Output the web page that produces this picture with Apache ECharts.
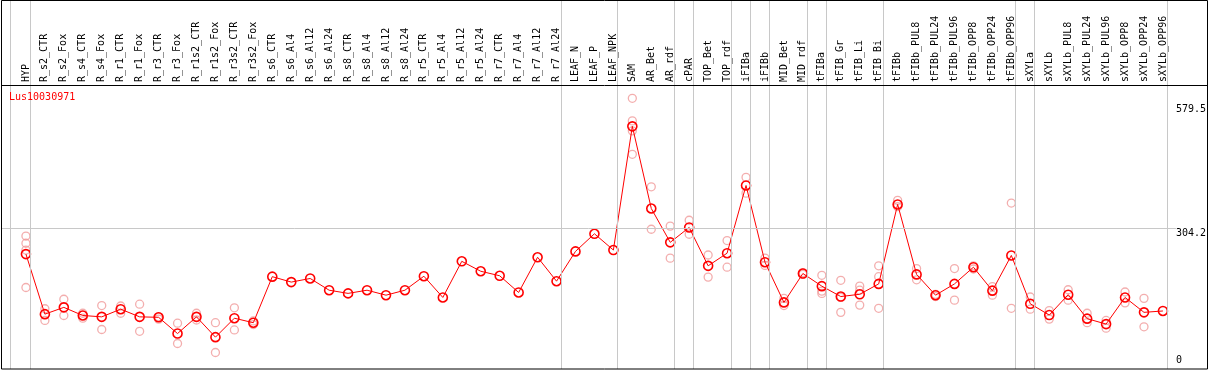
<!DOCTYPE html>
<html>
<head>
<meta charset="utf-8">
<script src="https://cdn.jsdelivr.net/npm/echarts@6/dist/echarts.min.js"></script>
<style>
html,body{margin:0;padding:0;background:#fff;}
#chart{width:1209px;height:370px;}
</style>
</head>
<body>
<div id="chart"></div>
<script>
const geneName = 'Lus10030971';
const categories = ['HYP','R_s2_CTR','R_s2_Fox','R_s4_CTR','R_s4_Fox','R_r1_CTR','R_r1_Fox','R_r3_CTR','R_r3_Fox','R_r1s2_CTR','R_r1s2_Fox','R_r3s2_CTR','R_r3s2_Fox','R_s6_CTR','R_s6_Al4','R_s6_Al12','R_s6_Al24','R_s8_CTR','R_s8_Al4','R_s8_Al12','R_s8_Al24','R_r5_CTR','R_r5_Al4','R_r5_Al12','R_r5_Al24','R_r7_CTR','R_r7_Al4','R_r7_Al12','R_r7_Al24','LEAF_N','LEAF_P','LEAF_NPK','SAM','AR_Bet','AR_rdf','cPAR','TOP_Bet','TOP_rdf','iFIBa','iFIBb','MID_Bet','MID_rdf','tFIBa','tFIB_Gr','tFIB_Li','tFIB_Bi','tFIBb','tFIBb_PUL8','tFIBb_PUL24','tFIBb_PUL96','tFIBb_OPP8','tFIBb_OPP24','tFIBb_OPP96','sXYLa','sXYLb','sXYLb_PUL8','sXYLb_PUL24','sXYLb_PUL96','sXYLb_OPP8','sXYLb_OPP24','sXYLb_OPP96'];
const meanValues = [247,114,129,111,108,125,108,107,71,108,63,105,95,197,185,193,167,160,167,156,167,198,151,231,209,199,162,240,187,253,292,256,530,348,273,306,221,249,399,229,140,204,176,153,158,181,357,202,156,181,218,166,244,137,112,157,104,92,151,118,121];
const replicates = [
  [287,271,256,173],[126,100],[147,111],[116,105],[133,80],[132,116],[136,76],[108,103],[94,49],[116,101],[95,29],[128,79],[99,91],
  [],[],[],[],[],[],[],[],[],[],[],[],[],[],[],[],[],[],[],
  [592,542,520,468],[396,302],[309,238],[322,291],[245,196],[277,218],[417,382],[238,222],[149,133],[206,202],
  [200,165,160],[189,151,118],[176,167,134],[221,197,127],[366,352],[215,190],[158,153],[215,145],[221,214],[175,156],[360,127],
  [152,125],[122,103],[168,145],[116,95],[100,83],[163,139],[149,86],[]
];
const groupSizes = [1,28,3,3,1,2,1,1,2,1,3,7,1,7];
const yTickTop = [304.2, 579.5];
const yTickBottom = [0];
const refLineValue = 304.2;

const FONT = 'DejaVu Sans Mono';
const lineData = meanValues.map((v,i)=>[i,v]);
const repData = [];
replicates.forEach((arr,i)=>arr.forEach(v=>repData.push([i,v])));
// group boundary lines just after the last member of each group
const boundaries = [-0.83];
let acc = 0;
groupSizes.forEach(s=>{acc += s; boundaries.push(acc - 1 + 0.227);});

const xMin = -1.316, xMax = 60.684;
const yMin = -7.5, yMax = 809.8;

const chart = echarts.init(document.getElementById('chart'), null, {renderer:'canvas'});
chart.setOption({
  animation:false,
  backgroundColor:'#fff',
  title:{text:geneName,left:9,top:92,padding:0,textStyle:{fontFamily:FONT,fontSize:10,fontWeight:'normal',color:'#ff0000'}},
  grid:{left:1,right:30,top:0,bottom:1,containLabel:false},
  xAxis:{type:'value',position:'top',offset:-85,min:xMin,max:xMax,
    axisLine:{show:false},axisTick:{show:false},splitLine:{show:false},
    axisLabel:{customValues:categories.map((c,i)=>i),rotate:90,margin:3,fontFamily:FONT,fontSize:10,color:'#000',
      formatter:v=>categories[Math.round(v)]||''}},
  yAxis:[
    {type:'value',position:'right',min:yMin,max:yMax,axisLine:{show:false},axisTick:{show:false},splitLine:{show:false},
      axisLabel:{customValues:yTickTop,margin:0,verticalAlign:'top',align:'left',fontFamily:FONT,fontSize:10,color:'#000',formatter:v=>String(v)}},
    {type:'value',position:'right',min:yMin,max:yMax,axisLine:{show:false},axisTick:{show:false},splitLine:{show:false},
      axisLabel:{customValues:yTickBottom,margin:0,verticalAlign:'bottom',align:'left',fontFamily:FONT,fontSize:10,color:'#000',formatter:v=>String(v)}}
  ],
  series:[
    {type:'scatter',data:repData,symbol:'circle',symbolSize:8,z:2,
      itemStyle:{color:'rgba(0,0,0,0)',borderColor:'#f09a9a',borderWidth:1.3},
      markLine:{silent:true,symbol:'none',label:{show:false},animation:false,
        lineStyle:{color:'#c8c8c8',width:1,type:'solid'},
        data:boundaries.map(b=>({xAxis:b})).concat([{yAxis:refLineValue}])}},
    {type:'line',data:lineData,symbol:'circle',symbolSize:9,z:3,
      lineStyle:{color:'#ff0000',width:1},
      itemStyle:{color:'rgba(0,0,0,0)',borderColor:'#ff0000',borderWidth:1.6}}
  ],
  graphic:[
    {type:'rect',shape:{x:1.5,y:0.5,width:1206,height:368.5},style:{fill:'none',stroke:'#000',lineWidth:1},z:100},
    {type:'line',shape:{x1:1.5,y1:85.5,x2:1207.5,y2:85.5},style:{stroke:'#000',lineWidth:1},z:100}
  ]
});
</script>
</body>
</html>
